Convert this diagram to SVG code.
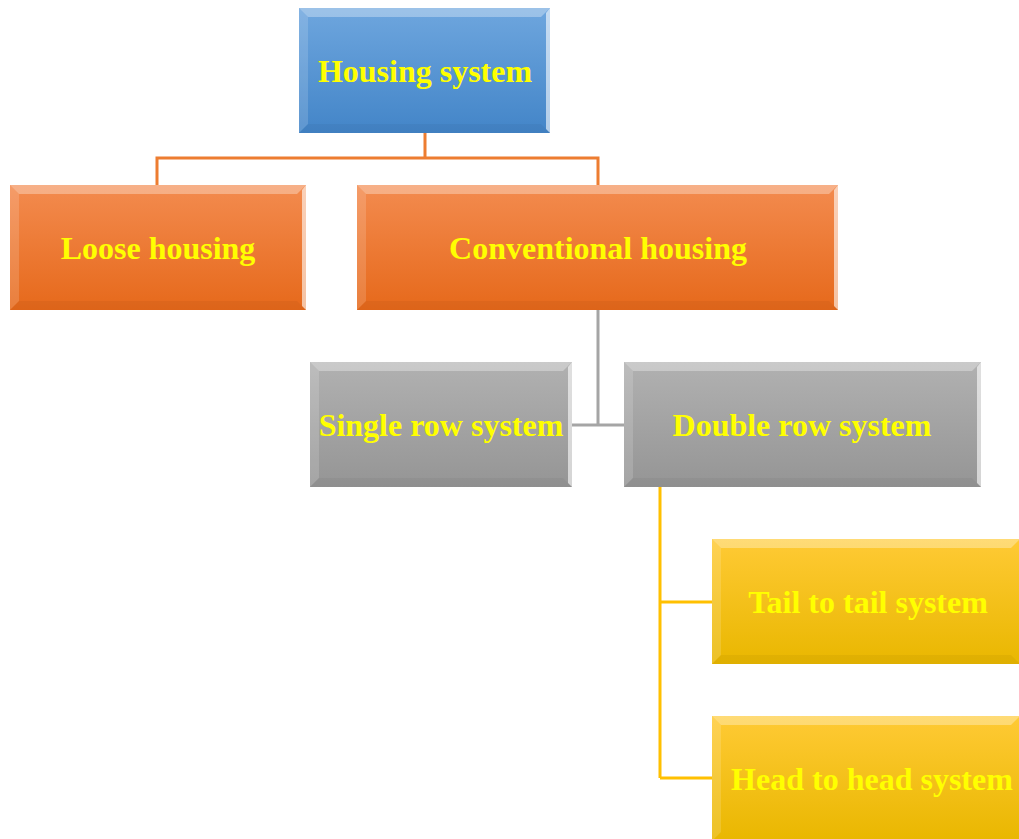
<svg xmlns="http://www.w3.org/2000/svg" width="1019" height="839" viewBox="0 0 1019 839">
<defs>
<linearGradient id="gBlue" x1="0" y1="0" x2="0" y2="1"><stop offset="0" stop-color="#6ea6de"/><stop offset="1" stop-color="#4385c8"/></linearGradient>
<linearGradient id="gOrange" x1="0" y1="0" x2="0" y2="1"><stop offset="0" stop-color="#f38b4f"/><stop offset="1" stop-color="#e6691b"/></linearGradient>
<linearGradient id="gGray" x1="0" y1="0" x2="0" y2="1"><stop offset="0" stop-color="#b1b1b1"/><stop offset="1" stop-color="#959595"/></linearGradient>
<linearGradient id="gGold" x1="0" y1="0" x2="0" y2="1"><stop offset="0" stop-color="#ffca35"/><stop offset="1" stop-color="#e9b700"/></linearGradient>
</defs>
<style>
.lbl{font-family:"Liberation Serif","Times New Roman",serif;font-weight:bold;font-size:32px;fill:#ffff00;text-anchor:middle;dominant-baseline:central}
.bt{fill:#ffffff;fill-opacity:0.32}
.bl{fill:#ffffff;fill-opacity:0.15}
.br{fill:#ffffff;fill-opacity:0.6}
.bb{fill:#000000;fill-opacity:0.04}
.conn{fill:none;stroke-width:3}
</style>
<g id="connectors">
<path class="conn" stroke="#ed7d31" d="M425 133V158M157 185V158H598V185"/>
<path class="conn" stroke="#a5a5a5" d="M598 310V425M572 425H624"/>
<path class="conn" stroke="#ffc000" d="M660 487V778M660 602H712M660 778H712"/>
</g>
<g id="n-housing">
<rect x="299" y="8" width="251" height="125" fill="url(#gBlue)"/>
<polygon class="bt" points="299,8 550,8 541,17 308,17"/>
<polygon class="bl" points="299,8 308,17 308,124 299,133"/>
<polygon class="br" points="550,8 550,133 546,129 546,13"/>
<polygon class="bb" points="299,133 550,133 541,124 308,124"/>
<text class="lbl" x="425" y="71">Housing system</text>
</g>
<g id="n-loose">
<rect x="10" y="185" width="296" height="125" fill="url(#gOrange)"/>
<polygon class="bt" points="10,185 306,185 297,194 19,194"/>
<polygon class="bl" points="10,185 19,194 19,301 10,310"/>
<polygon class="br" points="306,185 306,310 302,306 302,190"/>
<polygon class="bb" points="10,310 306,310 297,301 19,301"/>
<text class="lbl" x="158" y="248">Loose housing</text>
</g>
<g id="n-conventional">
<rect x="357" y="185" width="481" height="125" fill="url(#gOrange)"/>
<polygon class="bt" points="357,185 838,185 829,194 366,194"/>
<polygon class="bl" points="357,185 366,194 366,301 357,310"/>
<polygon class="br" points="838,185 838,310 834,306 834,190"/>
<polygon class="bb" points="357,310 838,310 829,301 366,301"/>
<text class="lbl" x="598" y="248">Conventional housing</text>
</g>
<g id="n-single">
<rect x="310" y="362" width="262" height="125" fill="url(#gGray)"/>
<polygon class="bt" points="310,362 572,362 563,371 319,371"/>
<polygon class="bl" points="310,362 319,371 319,478 310,487"/>
<polygon class="br" points="572,362 572,487 568,483 568,367"/>
<polygon class="bb" points="310,487 572,487 563,478 319,478"/>
<text class="lbl" x="441" y="425">Single row system</text>
</g>
<g id="n-double">
<rect x="624" y="362" width="357" height="125" fill="url(#gGray)"/>
<polygon class="bt" points="624,362 981,362 972,371 633,371"/>
<polygon class="bl" points="624,362 633,371 633,478 624,487"/>
<polygon class="br" points="981,362 981,487 977,483 977,367"/>
<polygon class="bb" points="624,487 981,487 972,478 633,478"/>
<text class="lbl" x="802" y="425">Double row system</text>
</g>
<g id="n-tail">
<rect x="712" y="539" width="308" height="125" fill="url(#gGold)"/>
<polygon class="bt" points="712,539 1020,539 1011,548 721,548"/>
<polygon class="bl" points="712,539 721,548 721,655 712,664"/>
<polygon class="bb" points="712,664 1020,664 1011,655 721,655"/>
<text class="lbl" x="868" y="602">Tail to tail system</text>
</g>
<g id="n-head">
<rect x="712" y="716" width="308" height="125" fill="url(#gGold)"/>
<polygon class="bt" points="712,716 1020,716 1011,725 721,725"/>
<polygon class="bl" points="712,716 721,725 721,832 712,841"/>
<text class="lbl" x="872" y="779">Head to head system</text>
</g>
</svg>
